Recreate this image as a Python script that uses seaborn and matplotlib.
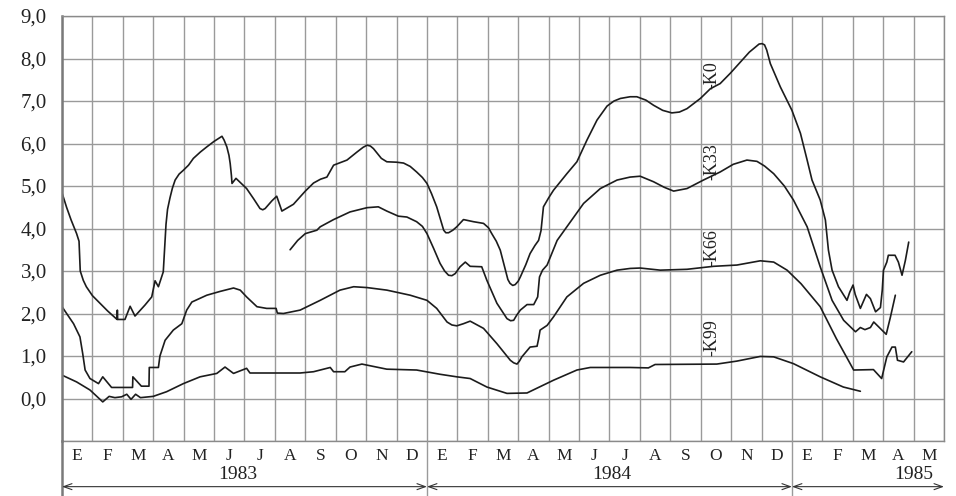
import matplotlib
matplotlib.use("Agg")
import matplotlib.pyplot as plt
import seaborn as sns
import pandas as pd

# Month axis: 0 = start of January 1983, one unit per month
month_letters = ["E", "F", "M", "A", "M", "J", "J", "A", "S", "O", "N", "D"] * 2 + ["E", "F", "M", "A", "M"]
years = ["1983", "1984", "1985"]
year_bounds = [(0, 12), (12, 24), (24, 29)]
year_label_x = [5.77, 18.09, 28.0]

ytick_values = list(range(-1, 10))
ytick_labels = [""] + [f"{v},0" for v in range(0, 10)]

series_names = ["K0", "K33", "K66", "K99"]

k0_x = [0.00, 0.15, 0.30, 0.48, 0.56, 0.60, 0.70, 0.80, 1.00, 1.25, 1.50, 1.81, 1.82, 1.83, 2.07,
        2.24, 2.40, 2.73, 2.95, 3.06, 3.17, 3.33, 3.39, 3.42, 3.47, 3.55, 3.63, 3.72, 3.85, 3.99,
        4.16, 4.32, 4.55, 4.76, 5.00, 5.15, 5.26, 5.33, 5.42, 5.49, 5.53, 5.57, 5.59, 5.72, 6.07,
        6.30, 6.51, 6.60, 6.68, 6.90, 7.06, 7.23, 7.61, 8.00, 8.27, 8.50, 8.71, 8.93, 9.37, 9.70,
        9.90, 10.03, 10.14, 10.24, 10.50, 10.68, 11.00, 11.23, 11.45, 11.66, 11.85, 12.00, 12.15,
        12.32, 12.45, 12.55, 12.62, 12.71, 12.85, 12.98, 13.20, 13.53, 13.86, 14.02, 14.13, 14.28,
        14.41, 14.55, 14.66, 14.73, 14.82, 14.90, 15.00, 15.07, 15.25, 15.39, 15.55, 15.67, 15.75,
        15.83, 16.00, 16.16, 16.60, 16.93, 17.26, 17.59, 17.92, 18.15, 18.36, 18.68, 18.90, 19.20,
        19.45, 19.75, 20.05, 20.30, 20.55, 20.99, 21.32, 21.64, 21.97, 22.41, 22.60, 22.80, 22.92,
        23.02, 23.10, 23.17, 23.29, 23.62, 24.00, 24.28, 24.50, 24.66, 24.93, 25.10, 25.20, 25.32,
        25.53, 25.81, 25.90, 26.01, 26.08, 26.25, 26.45, 26.58, 26.75, 26.91, 26.97, 27.01, 27.12,
        27.17, 27.39, 27.50, 27.62, 27.73, 27.84]
k0_y = [4.84, 4.50, 4.20, 3.88, 3.70, 3.00, 2.78, 2.63, 2.42, 2.24, 2.06, 1.86, 2.08, 1.86, 1.86,
        2.17, 1.94, 2.20, 2.39, 2.77, 2.63, 2.98, 3.72, 4.10, 4.45, 4.72, 4.95, 5.14, 5.28, 5.37,
        5.49, 5.65, 5.80, 5.92, 6.05, 6.12, 6.17, 6.08, 5.92, 5.72, 5.53, 5.25, 5.06, 5.18, 4.94,
        4.70, 4.47, 4.44, 4.47, 4.65, 4.76, 4.41, 4.57, 4.88, 5.07, 5.16, 5.21, 5.49, 5.61, 5.80,
        5.91, 5.96, 5.94, 5.88, 5.65, 5.57, 5.56, 5.54, 5.46, 5.33, 5.20, 5.06, 4.82,
        4.51, 4.20, 3.96, 3.90, 3.90, 3.96, 4.04, 4.21, 4.16, 4.12, 4.02, 3.88, 3.70,
        3.49, 3.10, 2.80, 2.71, 2.66, 2.68, 2.76, 2.86, 3.15, 3.41, 3.60, 3.72, 3.95,
        4.51, 4.72, 4.90, 5.29, 5.57, 6.08, 6.55, 6.88, 7.00, 7.06, 7.10, 7.10, 7.02,
        6.90, 6.78, 6.72, 6.74, 6.82, 7.06, 7.29, 7.41, 7.65, 8.00, 8.15, 8.27, 8.34,
        8.35, 8.32, 8.20, 7.88, 7.33, 6.78, 6.24, 5.61, 5.14, 4.67, 4.20, 3.49, 3.02,
        2.63, 2.31, 2.50, 2.67, 2.45, 2.12, 2.45, 2.35, 2.04, 2.14, 2.55, 3.02, 3.21,
        3.37, 3.37, 3.21, 2.90, 3.25, 3.68]

k33_x = [7.50, 7.75, 8.00, 8.38, 8.49, 8.93, 9.47, 10.03, 10.40, 10.68, 11.06, 11.34, 11.66, 11.85,
         12.00, 12.22, 12.43, 12.58, 12.71, 12.82, 12.93, 13.09, 13.26, 13.42, 13.80, 13.97, 14.30,
         14.63, 14.75, 14.85, 14.95, 15.07, 15.29, 15.51, 15.64, 15.70, 15.80, 15.95, 16.28, 16.60,
         17.15, 17.70, 18.25, 18.68, 19.01, 19.45, 19.80, 20.11, 20.55, 21.09, 21.64, 22.07, 22.52,
         22.85, 23.10, 23.40, 23.75, 24.05, 24.50, 24.93, 25.32, 25.70, 26.09, 26.25, 26.40, 26.58,
         26.69, 27.10, 27.24, 27.40]
k33_y = [3.50, 3.72, 3.88, 3.96, 4.04, 4.21, 4.39, 4.49, 4.51, 4.41, 4.29, 4.27, 4.16, 4.05,
         3.88, 3.53, 3.18, 3.00, 2.90, 2.89, 2.94, 3.10, 3.21, 3.11, 3.10, 2.78, 2.24,
         1.88, 1.83, 1.84, 1.96, 2.08, 2.21, 2.21, 2.39, 2.86, 3.02, 3.14, 3.72, 4.04,
         4.59, 4.94, 5.14, 5.21, 5.23, 5.10, 4.97, 4.88, 4.94, 5.14, 5.33, 5.51, 5.61,
         5.58, 5.47, 5.29, 5.00, 4.67, 4.04, 3.10, 2.31, 1.84, 1.57, 1.67, 1.62, 1.67,
         1.80, 1.51, 1.92, 2.43]

k66_x = [0.00, 0.38, 0.59, 0.68, 0.76, 0.92, 1.20, 1.34, 1.63, 2.32, 2.33, 2.61, 2.86, 2.87, 3.17,
         3.22, 3.39, 3.66, 3.94, 4.10, 4.27, 4.76, 5.20, 5.64, 5.86, 6.07, 6.41, 6.73, 7.04, 7.08,
         7.28, 7.83, 8.49, 9.14, 9.59, 10.03, 10.68, 11.45, 12.00, 12.32, 12.66, 12.82, 12.98, 13.20,
         13.42, 13.86, 14.30, 14.74, 14.85, 14.96, 15.04, 15.12, 15.39, 15.62, 15.67, 15.72, 15.95,
         16.16, 16.60, 17.15, 17.70, 18.25, 18.68, 19.01, 19.67, 20.55, 21.42, 22.19, 22.96, 23.40,
         23.84, 24.30, 24.93, 25.46, 26.03, 26.68, 26.95, 27.12, 27.29, 27.40, 27.47, 27.67, 27.94]
k66_y = [2.16, 1.76, 1.45, 1.06, 0.67, 0.47, 0.35, 0.51, 0.26, 0.26, 0.51, 0.29, 0.29, 0.73, 0.73,
         1.00, 1.37, 1.61, 1.76, 2.08, 2.27, 2.43, 2.52, 2.60, 2.55, 2.39, 2.16, 2.12, 2.12, 2.01,
         2.00, 2.08, 2.31, 2.55, 2.63, 2.61, 2.55, 2.43, 2.31, 2.12, 1.80, 1.73, 1.71, 1.76,
         1.82, 1.65, 1.29, 0.90, 0.84, 0.81, 0.88, 0.98, 1.21, 1.23, 1.40, 1.61, 1.72,
         1.92, 2.39, 2.71, 2.90, 3.02, 3.06, 3.07, 3.02, 3.04, 3.11, 3.14, 3.24, 3.21,
         3.02, 2.70, 2.16, 1.41, 0.67, 0.68, 0.47, 0.98, 1.21, 1.21, 0.90, 0.86, 1.10]

k99_x = [0.00, 0.48, 0.92, 1.34, 1.55, 1.74, 1.96, 2.13, 2.27, 2.42, 2.58, 3.00, 3.44, 3.99, 4.54,
         5.09, 5.36, 5.64, 6.07, 6.18, 7.83, 8.27, 8.82, 8.93, 9.30, 9.47, 9.86, 10.68, 11.66, 12.43,
         12.98, 13.42, 13.97, 14.63, 15.29, 16.16, 16.93, 17.37, 18.68, 19.28, 19.50, 21.53, 22.19,
         22.96, 23.40, 24.05, 24.93, 25.69, 26.25]
k99_y = [0.55, 0.39, 0.20, -0.08, 0.05, 0.02, 0.04, 0.10, -0.02, 0.10, 0.02, 0.05, 0.16, 0.35, 0.51,
         0.59, 0.74, 0.59, 0.71, 0.60, 0.60, 0.63, 0.73, 0.63, 0.63, 0.74, 0.81, 0.69, 0.67, 0.57,
         0.51, 0.47, 0.27, 0.12, 0.13, 0.43, 0.67, 0.73, 0.73, 0.72, 0.80, 0.81, 0.88,
         0.99, 0.98, 0.82, 0.51, 0.27, 0.17]

# Curve labels: (month position, value position)
label_x = [21.38, 21.38, 21.38, 21.38]
label_y = [7.61, 5.58, 3.54, 1.44]

sns.set_theme(style="white")
plt.rcParams["font.family"] = ["Liberation Serif", "DejaVu Serif"]

fig = plt.figure(figsize=(9.56, 4.96), dpi=100)
ax = fig.add_axes([62 / 956, 55 / 496, 882 / 956, 425 / 496])
ax_lab = fig.add_axes([62 / 956, 0.0, 882 / 956, 55 / 496])

grid_color = "#9a9a9a"
line_color = "#1c1c1c"

curves = [(k0_x, k0_y), (k33_x, k33_y), (k66_x, k66_y), (k99_x, k99_y)]
frames = []
for name, (xs, ys) in zip(series_names, curves):
    frames.append(pd.DataFrame({"mes": xs, "valor": ys, "serie": name}))
data = pd.concat(frames, ignore_index=True)

for name in series_names:
    sub = data[data["serie"] == name]
    sns.lineplot(data=sub, x="mes", y="valor", ax=ax, sort=False, estimator=None,
                 color=line_color, lw=1.2, legend=False)

for name, lx, ly in zip(series_names, label_x, label_y):
    ax.text(lx, ly, "-" + name, rotation=90, ha="center", va="center",
            fontsize=13, color="#222222")

ax.set_xlim(0, 29)
ax.set_ylim(-1, 9)
ax.set_xticks(range(0, 30))
ax.set_xticklabels([])
ax.set_yticks(ytick_values)
ax.set_yticklabels(ytick_labels, fontsize=15, color="#222222")
ax.tick_params(axis="both", length=0)
ax.tick_params(axis="y", pad=11)
ax.grid(True, color=grid_color, lw=1.0)
ax.set_xlabel("")
ax.set_ylabel("")
for side in ["top", "right", "bottom"]:
    ax.spines[side].set_color("#8a8a8a")
    ax.spines[side].set_linewidth(1.0)
ax.spines["left"].set_color("#7a7a7a")
ax.spines["left"].set_linewidth(1.8)

# Lower band with month letters, years and period arrows
ax_lab.set_xlim(0, 29)
ax_lab.set_ylim(0, 1)
ax_lab.set_xticks([])
ax_lab.set_yticks([])
ax_lab.patch.set_alpha(0)
for side in ["top", "right", "bottom"]:
    ax_lab.spines[side].set_visible(False)
ax_lab.spines["left"].set_color("#7a7a7a")
ax_lab.spines["left"].set_linewidth(1.8)

for i, letter in enumerate(month_letters):
    ax_lab.text(i + 0.5, 0.72, letter, ha="center", va="center", fontsize=12.5, color="#222222")

for yr, xpos in zip(years, year_label_x):
    ax_lab.text(xpos, 0.39, yr, ha="center", va="center", fontsize=14, color="#222222")

for (a, b) in year_bounds:
    ax_lab.annotate("", xy=(b, 0.17), xytext=(a, 0.17),
                    arrowprops=dict(arrowstyle="<->,head_length=0.5,head_width=0.18",
                                    color="#333333", lw=0.8, shrinkA=0, shrinkB=0))

for a, b in year_bounds[:-1]:
    ax_lab.axvline(b, color=grid_color, lw=1.0)

fig.savefig("out.png", dpi=100, facecolor="white")
